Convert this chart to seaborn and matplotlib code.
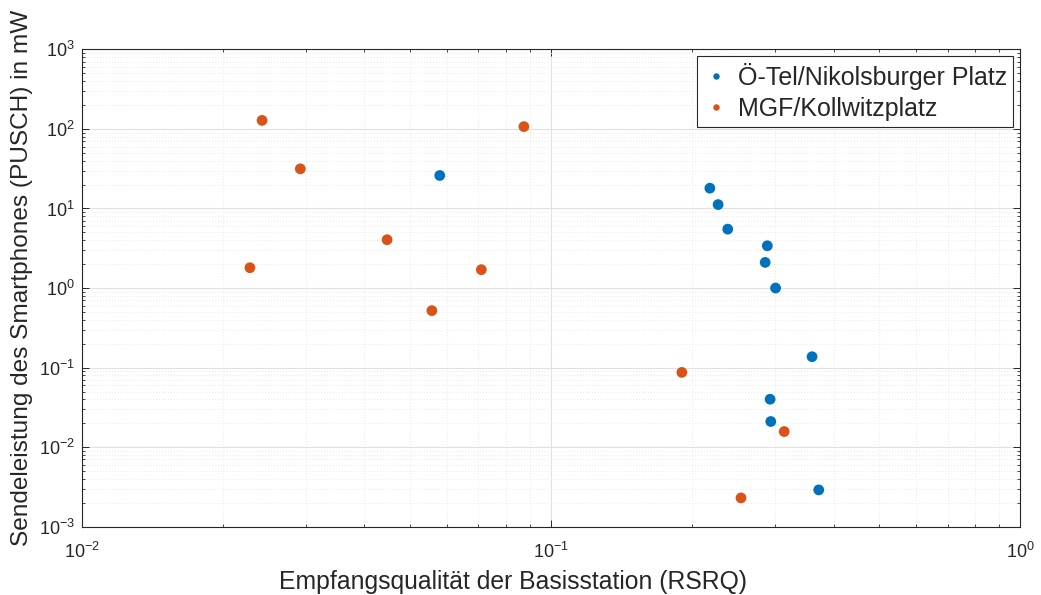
import matplotlib
matplotlib.use("Agg")
import matplotlib.pyplot as plt
import seaborn as sns
import pandas as pd
from matplotlib.ticker import LogLocator, NullFormatter

# RSRQ (linear) and PUSCH transmit power in mW per measurement site
oetel_rsrq = [0.0579, 0.218, 0.227, 0.238, 0.289, 0.286, 0.301, 0.360, 0.293, 0.294, 0.372]
oetel_power = [26.0, 18.0, 11.2, 5.5, 3.4, 2.1, 1.0, 0.137, 0.040, 0.021, 0.0029]

mgf_rsrq = [0.0242, 0.0292, 0.0875, 0.0447, 0.0228, 0.0710, 0.0557, 0.190, 0.314, 0.254]
mgf_power = [128.0, 31.5, 107.0, 4.05, 1.8, 1.7, 0.52, 0.087, 0.0157, 0.0023]

series_names = ["Ö-Tel/Nikolsburger Platz", "MGF/Kollwitzplatz"]
series_colors = ["#0072BD", "#D95319"]

x_ticks = [1e-2, 1e-1, 1e0]
y_ticks = [1e-3, 1e-2, 1e-1, 1e0, 1e1, 1e2, 1e3]

df = pd.concat([
    pd.DataFrame({"rsrq": oetel_rsrq, "power": oetel_power, "site": series_names[0]}),
    pd.DataFrame({"rsrq": mgf_rsrq, "power": mgf_power, "site": series_names[1]}),
], ignore_index=True)

sns.set_theme(style="white")
plt.rcParams["font.family"] = ["Liberation Sans", "DejaVu Sans"]

fig = plt.figure(figsize=(10.41, 5.95), dpi=100)
ax = fig.add_axes([0.0788, 0.1148, 0.9012, 0.8022])

sns.scatterplot(data=df, x="rsrq", y="power", hue="site",
                palette=dict(zip(series_names, series_colors)),
                s=60, edgecolor="none", linewidth=0, ax=ax, zorder=3)

ax.set_xscale("log")
ax.set_yscale("log")
ax.set_xlim(x_ticks[0], x_ticks[-1])
ax.set_ylim(y_ticks[0], y_ticks[-1])

ax.set_xticks(x_ticks)
ax.set_yticks(y_ticks)
ax.xaxis.set_minor_locator(LogLocator(base=10, subs=range(2, 10), numticks=20))
ax.yaxis.set_minor_locator(LogLocator(base=10, subs=range(2, 10), numticks=20))
ax.xaxis.set_minor_formatter(NullFormatter())
ax.yaxis.set_minor_formatter(NullFormatter())

ax.grid(True, which="major", color="#e0e0e0", linestyle="-", linewidth=0.8, zorder=0)
ax.grid(True, which="minor", color="#ececec", linestyle=":", linewidth=0.8, zorder=0)

for sp in ax.spines.values():
    sp.set_color("#262626")
    sp.set_linewidth(0.8)
    sp.set_visible(True)

ax.tick_params(which="both", direction="in", top=True, right=True,
               bottom=True, left=True, colors="#262626", labelcolor="#262626")
ax.tick_params(which="major", length=5, width=0.7, labelsize=13)
ax.tick_params(axis="x", which="major", pad=11)
ax.tick_params(axis="y", which="major", pad=5)
ax.tick_params(which="minor", length=2.5, width=0.6)

ax.set_xlabel("Empfangsqualität der Basisstation (RSRQ)", fontsize=17.8, color="#262626")
ax.set_ylabel("Sendeleistung des Smartphones (PUSCH) in mW", fontsize=17.6, color="#262626")
ax.xaxis.set_label_coords(0.4595, -0.090)
ax.yaxis.set_label_coords(-0.0525, 0.522)

handles, labels = ax.get_legend_handles_labels()
leg = ax.legend(handles, labels, loc="upper right", fontsize=18, frameon=True,
                fancybox=False, edgecolor="#262626", framealpha=1,
                markerscale=0.6, handletextpad=0.4, borderpad=0.25,
                labelspacing=0.28, handlelength=0.96, borderaxespad=0,
                bbox_to_anchor=(0.9925, 0.9853))
leg.get_frame().set_linewidth(0.8)

fig.savefig("out.png", dpi=100)
